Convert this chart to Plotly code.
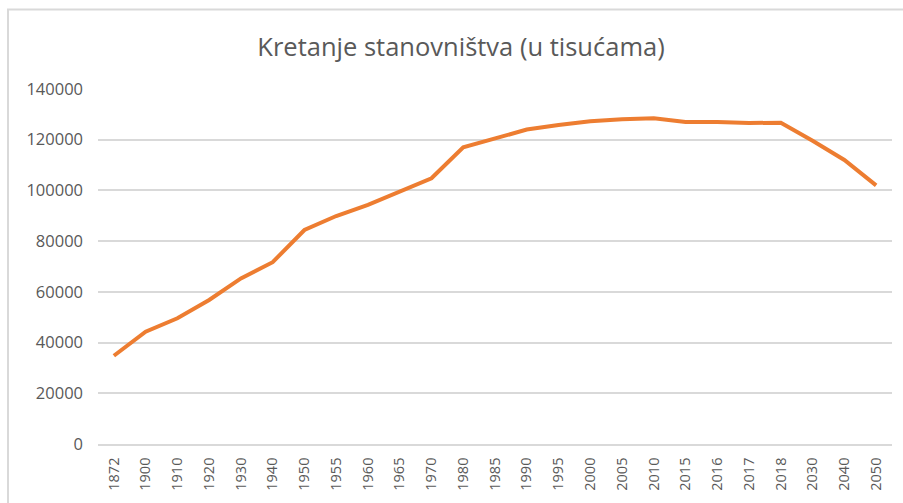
import plotly.graph_objects as go

years = ["1872", "1900", "1910", "1920", "1930", "1940", "1950", "1955", "1960", "1965",
         "1970", "1980", "1985", "1990", "1995", "2000", "2005", "2010", "2015", "2016",
         "2017", "2018", "2030", "2040", "2050"]
population = [34800, 44300, 49600, 56800, 65300, 71700, 84400, 89900, 94300, 99500,
              104800, 117000, 120700, 124000, 125800, 127300, 128100, 128500, 127000, 127000,
              126600, 126700, 119600, 112000, 102000]

W, H = 903, 503
L, R, T, B = 98, 11, 89, 59
pw, ph = W - L - R, H - T - B

fig = go.Figure()
fig.add_trace(go.Scatter(
    x=years, y=population, mode="lines",
    line=dict(color="#ED7D31", width=4),
    hoverinfo="x+y",
))

grey = "#595959"
fig.update_layout(
    width=W, height=H,
    margin=dict(l=L, r=R, t=T, b=B, pad=0),
    paper_bgcolor="white", plot_bgcolor="white",
    showlegend=False,
    font=dict(family="Open Sans", color=grey),
    title=dict(
        text="Kretanje stanovništva (u tisućama)",
        font=dict(family="Open Sans", size=25.5, color=grey),
        x=461 / W, xanchor="center", xref="container",
        y=1 - 47 / H, yanchor="middle", yref="container",
    ),
    xaxis=dict(
        type="category", tickangle=-90,
        tickfont=dict(size=14.5, color=grey),
        showgrid=False, showline=True, linecolor="#D9D9D9", linewidth=1.5,
        ticks="", ticklabelstandoff=6, zeroline=False,
        range=[-0.5, len(years) - 0.5],
    ),
    yaxis=dict(
        range=[0, 140000], dtick=20000, tickformat="d",
        tickfont=dict(size=16.5, color=grey),
        showgrid=True, gridcolor="#D9D9D9", gridwidth=1.5,
        zeroline=False, showline=False, ticks="", ticklabelstandoff=14,
    ),
    shapes=[dict(
        type="rect", xref="paper", yref="paper",
        x0=(8 - L) / pw, x1=1.5,
        y0=-1, y1=(H - B - 9.5) / ph,
        line=dict(color="#D9D9D9", width=2), fillcolor="rgba(0,0,0,0)",
        layer="below",
    )],
)

fig.write_html(
    "out.html",
    config={"displayModeBar": False},
    post_script="document.body.style.margin='0';document.body.style.overflow='hidden';",
)
